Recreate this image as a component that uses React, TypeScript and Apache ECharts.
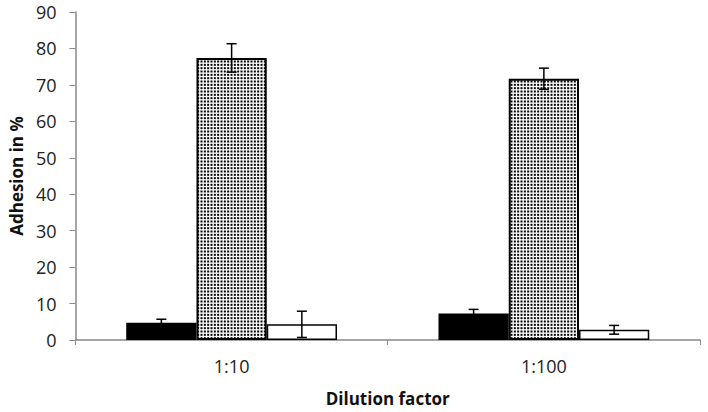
import React, { useEffect, useRef } from "react";
import * as echarts from "echarts";

const categories = ["1:10", "1:100"];
const blackValues = [4.7, 7.3];
const blackErrors = [1.0, 1.1];
const dottedValues = [77.4, 71.7];
const dottedErrors = [3.9, 2.9];
const whiteValues = [4.3, 2.8];
const whiteErrors = [3.6, 1.2];
const yTicks = { min: 0, max: 90, interval: 10 };

const BAR_FRAC = 0.225;

function makeDotPattern(): HTMLCanvasElement {
  const c = document.createElement("canvas");
  c.width = 10;
  c.height = 10;
  const ctx = c.getContext("2d")!;
  ctx.fillStyle = "#ffffff";
  ctx.fillRect(0, 0, 10, 10);
  ctx.fillStyle = "#000000";
  const p = 10 / 3;
  for (let i = 0; i < 3; i++) {
    for (let j = 0; j < 3; j++) {
      ctx.fillRect(i * p + 0.5, j * p + 0.5, 2, 2);
    }
  }
  return c;
}

export default function App() {
  const ref = useRef<HTMLDivElement>(null);
  useEffect(() => {
    if (!ref.current) return;
    const chart = echarts.init(ref.current, undefined, { renderer: "svg" });
    const pattern = makeDotPattern();

    const errSeries = (values: number[], errors: number[], slot: number) => ({
      type: "custom",
      z: 10,
      silent: true,
      data: values.map((v, i) => [i, v, errors[i]]),
      renderItem: (params: any, api: any) => {
        const idx = api.value(0);
        const val = api.value(1);
        const err = api.value(2);
        const catW = api.size([1, 0])[0];
        const bw = catW * BAR_FRAC;
        const c = api.coord([idx, val]);
        const x = c[0] + (slot - 1) * bw;
        const yTop = api.coord([idx, val + err])[1];
        const yBot = api.coord([idx, val - err])[1];
        const hw = 5;
        const style = { stroke: "#000", lineWidth: 1.5 };
        return {
          type: "group",
          children: [
            { type: "line", shape: { x1: x, y1: yTop, x2: x, y2: yBot }, style },
            { type: "line", shape: { x1: x - hw, y1: yTop, x2: x + hw, y2: yTop }, style },
            { type: "line", shape: { x1: x - hw, y1: yBot, x2: x + hw, y2: yBot }, style },
          ],
        };
      },
    });

    chart.setOption({
      animation: false,
      backgroundColor: "#ffffff",
      grid: { left: 70, right: 8, top: 12, bottom: 68 },
      xAxis: {
        type: "category",
        data: categories,
        name: "Dilution factor",
        nameLocation: "middle",
        nameGap: 50,
        nameTextStyle: { fontFamily: "Open Sans", fontWeight: "bold", fontSize: 17, color: "#111" },
        axisLine: { lineStyle: { color: "#888", width: 1.5 } },
        axisTick: { show: true, alignWithLabel: false, length: 5, lineStyle: { color: "#888" } },
        axisLabel: { fontFamily: "Open Sans", fontSize: 18, color: "#222", margin: 17 },
      },
      yAxis: {
        type: "value",
        min: yTicks.min,
        max: yTicks.max,
        interval: yTicks.interval,
        name: "Adhesion in %",
        nameLocation: "middle",
        nameGap: 45,
        nameTextStyle: { fontFamily: "Open Sans", fontWeight: "bold", fontSize: 17, color: "#111" },
        axisLine: { show: true, lineStyle: { color: "#888", width: 1.5 } },
        axisTick: { show: true, length: 6, lineStyle: { color: "#888" } },
        splitLine: { show: false },
        axisLabel: { fontFamily: "Open Sans", fontSize: 18, color: "#222", margin: 19 },
      },
      series: [
        {
          type: "bar",
          data: blackValues,
          barWidth: BAR_FRAC * 100 + "%",
          barGap: "0%",
          itemStyle: { color: "#000", borderColor: "#000", borderWidth: 1.5 },
        },
        {
          type: "bar",
          data: dottedValues,
          barWidth: BAR_FRAC * 100 + "%",
          barGap: "0%",
          itemStyle: {
            color: { image: pattern, repeat: "repeat" },
            borderColor: "#000",
            borderWidth: 2,
          },
        },
        {
          type: "bar",
          data: whiteValues,
          barWidth: BAR_FRAC * 100 + "%",
          barGap: "0%",
          itemStyle: { color: "#fff", borderColor: "#000", borderWidth: 1.5 },
        },
        errSeries(blackValues, blackErrors, 0),
        errSeries(dottedValues, dottedErrors, 1),
        errSeries(whiteValues, whiteErrors, 2),
      ],
    });
    return () => chart.dispose();
  }, []);
  return (
    <div
      ref={ref}
      style={{ position: "fixed", left: 0, top: 0, width: 708, height: 412 }}
    />
  );
}
